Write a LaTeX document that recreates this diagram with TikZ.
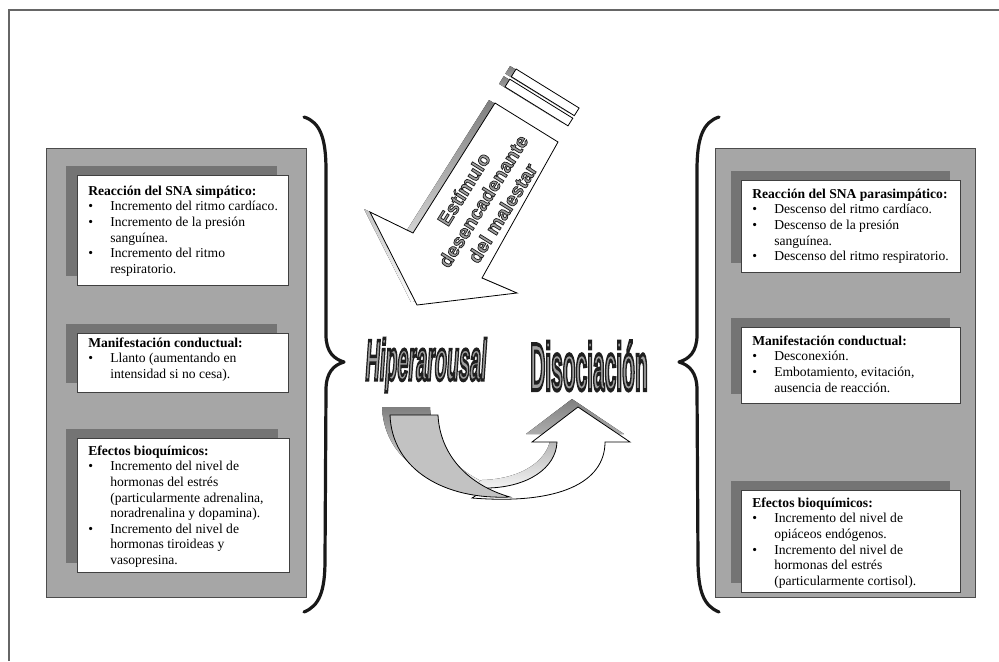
\documentclass[tikz,border=0pt]{standalone}
\usepackage{fontspec}
\setmainfont{Liberation Serif}
\newfontfamily\sansb{Liberation Sans}
\definecolor{panel}{HTML}{A6A6A6}
\definecolor{shade}{HTML}{747474}
\definecolor{band}{HTML}{C2C2C2}
\definecolor{wordfill}{HTML}{A0A0A0}
\definecolor{framec}{HTML}{666666}
\newcommand\bul{\makebox[16.5pt][l]{\textbullet}}
\newcommand\cnt{\hspace*{16.5pt}}
\newcommand\fst{\rule{0pt}{9pt}}
\newcommand\olt[3]{{\color{#1}\special{pdf:literal direct 2 Tr #2 w 0.12 0.12 0.12 RG}#3\special{pdf:literal direct 0 Tr}}}
\begin{document}
\begin{tikzpicture}[x=0.75pt,y=-0.75pt,
  panelbox/.style={fill=panel, draw=black!70, line width=0.6pt},
  shadowbox/.style={fill=shade, draw=none},
  whitebox/.style={fill=white, draw=black!75, line width=0.5pt},
  txt/.style={inner sep=0pt, anchor=north west, align=left, font=\fontsize{10.2}{11.7}\selectfont},
  brace/.style={line width=2.4pt, line cap=round, line join=round, draw=black!90},
  arrowshape/.style={fill=white, draw=black, line width=0.6pt, line join=miter},
  bigword/.style={inner sep=0pt, anchor=base}]
\useasboundingbox (0,0) rectangle (999,661);
% frame
\draw[framec, line width=1.6pt] (9,661) -- (9,10) -- (999,10);
% panels
\path[panelbox] (46,148) rectangle (306,597);
\path[panelbox] (715,148) rectangle (975,597);
% left boxes
\path[shadowbox] (66,166) rectangle (277,276);
\path[whitebox] (77,175) rectangle (288,285);
\path[shadowbox] (66,324) rectangle (277,383);
\path[whitebox] (77,333) rectangle (288,392);
\path[shadowbox] (66,429) rectangle (278,563);
\path[whitebox] (77,438) rectangle (289,572);
% right boxes
\path[shadowbox] (731,171) rectangle (950,263);
\path[whitebox] (741,180) rectangle (960,272);
\path[shadowbox] (731,318) rectangle (950,394);
\path[whitebox] (741,327) rectangle (960,403);
\path[shadowbox] (731,481) rectangle (950,583);
\path[whitebox] (741,490) rectangle (960,592);
% texts left
\node[txt] (l1) at (88,183) {\fst\textbf{Reacción del SNA simpático:}\\
\bul Incremento del ritmo cardíaco.\\
\bul Incremento de la presión\\
\cnt sanguínea.\\
\bul Incremento del ritmo\\
\cnt respiratorio.};
\node[txt] (l2) at (88,335) {\fst\textbf{Manifestación conductual:}\\
\bul Llanto (aumentando en\\
\cnt intensidad si no cesa).};
\node[txt] (l3) at (88,443) {\fst\textbf{Efectos bioquímicos:}\\
\bul Incremento del nivel de\\
\cnt hormonas del estrés\\
\cnt (particularmente adrenalina,\\
\cnt noradrenalina y dopamina).\\
\bul Incremento del nivel de\\
\cnt hormonas tiroideas y\\
\cnt vasopresina.};
% texts right
\node[txt] (r1) at (752,186) {\fst\textbf{Reacción del SNA parasimpático:}\\
\bul Descenso del ritmo cardíaco.\\
\bul Descenso de la presión\\
\cnt sanguínea.\\
\bul Descenso del ritmo respiratorio.};
\node[txt] (r2) at (752,333) {\fst\textbf{Manifestación conductual:}\\
\bul Desconexión.\\
\bul Embotamiento, evitación,\\
\cnt ausencia de reacción.};
\node[txt] (r3) at (752,495) {\fst\textbf{Efectos bioquímicos:}\\
\bul Incremento del nivel de\\
\cnt opiáceos endógenos.\\
\bul Incremento del nivel de\\
\cnt hormonas del estrés\\
\cnt (particularmente cortisol).};
% braces
\draw[brace] (304,117) .. controls (320,122) and (326,138) .. (326,170) -- (326,335)
  .. controls (326,352) and (334,359) .. (344,362)
  .. controls (334,365) and (326,372) .. (326,390) -- (325,560)
  .. controls (325,592) and (319,606) .. (304,612);
\draw[brace] (719,117) .. controls (703,122) and (697,138) .. (697,170) -- (697,335)
  .. controls (697,352) and (689,359) .. (679,362)
  .. controls (689,365) and (697,372) .. (697,390) -- (698,560)
  .. controls (698,592) and (704,606) .. (719,612);
% big arrow: shadows
\begin{scope}[shift={(-6,-3)}]
\fill[shade] (516.1,69) -- (579.1,108) -- (574.3,115.65) -- (511.3,76.65) -- cycle;
\fill[shade] (509.8,79.2) -- (572.8,118.2) -- (568,125.85) -- (505,86.85) -- cycle;
\fill[shade] (495,103) -- (558,142) -- (482,278) -- (517,293) -- (417,305) -- (370,212) -- (413,233) -- cycle;
\end{scope}
\draw[arrowshape] (516.1,69) -- (579.1,108) -- (574.3,115.65) -- (511.3,76.65) -- cycle;
\draw[arrowshape] (509.8,79.2) -- (572.8,118.2) -- (568,125.85) -- (505,86.85) -- cycle;
\draw[arrowshape] (495,103) -- (558,142) -- (482,278) -- (517,293) -- (417,305) -- (370,212) -- (413,233) -- cycle;
\node[rotate=58, align=center, inner sep=0pt,
  font=\sansb\bfseries\fontsize{14.5}{17}\selectfont] (stim) at (483,201)
  {\olt{wordfill}{0.55}{Estímulo}\\
   \olt{wordfill}{0.55}{desencadenante}\\
   \olt{wordfill}{0.55}{del malestar}};
% words
\node[bigword, xscale=0.345, xslant=0.2, font=\sansb\bfseries\fontsize{43}{43}\selectfont] (hip) at (425,380)
  {\olt{wordfill}{2.6}{Hiperarousal}};
\node[bigword, xscale=0.314, font=\sansb\bfseries\fontsize{50}{50}\selectfont] (dis) at (589,390)
  {\olt{wordfill}{3.0}{Disociación}};
% U arrow
\fill[shade, shift={(-8,-8)}] (390,415) -- (438,415) .. controls (440,455) and (468,485) .. (510,497)
  .. controls (445,500) and (392,470) .. (390,415) -- cycle;
\fill[shade, shift={(-6,-8)}] (472,498) .. controls (560,505) and (605,482) .. (605,442) -- (630,442) -- (578,407)
  -- (532,442) -- (557,442) .. controls (556,468) and (528,487) .. (488,488) -- cycle;
\draw[arrowshape] (472,498) .. controls (560,505) and (605,482) .. (605,442) -- (630,442) -- (578,407)
  -- (532,442) -- (557,442) .. controls (556,468) and (528,487) .. (488,488) -- cycle;
\draw[fill=band, draw=black, line width=0.6pt] (390,415) -- (438,415) .. controls (440,455) and (468,485) .. (510,497)
  .. controls (445,500) and (392,470) .. (390,415) -- cycle;
\end{tikzpicture}
\end{document}
